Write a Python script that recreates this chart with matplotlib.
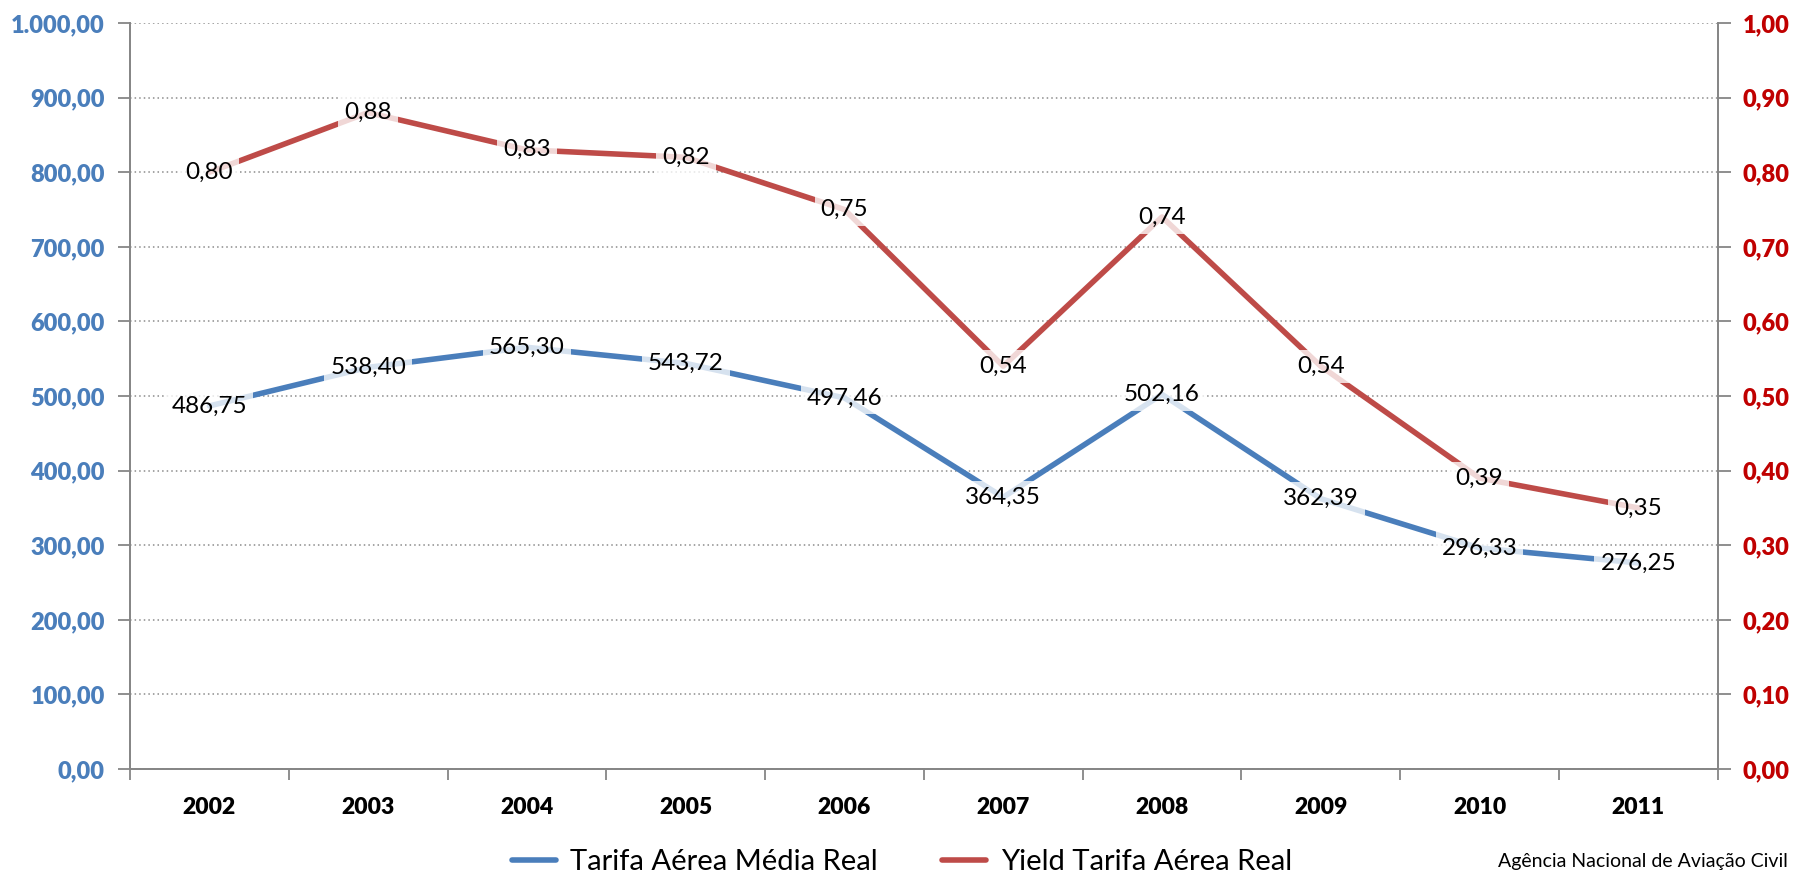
import matplotlib.pyplot as plt

anos = ['2002', '2003', '2004', '2005', '2006', '2007', '2008', '2009', '2010', '2011']
tarifa = [486.75, 538.40, 565.30, 543.72, 497.46, 364.35, 502.16, 362.39, 296.33, 276.25]
yield_ = [0.80, 0.88, 0.83, 0.82, 0.75, 0.54, 0.74, 0.54, 0.39, 0.35]
ticks_esq = [0, 100, 200, 300, 400, 500, 600, 700, 800, 900, 1000]
ticks_dir = [0.0, 0.1, 0.2, 0.3, 0.4, 0.5, 0.6, 0.7, 0.8, 0.9, 1.0]

azul = '#4A7EBB'
vermelho = '#BE4B48'
cinza = '#868686'

plt.rcParams['font.family'] = ['Lato', 'DejaVu Sans']


def br(v, dec=2):
    s = f"{v:,.{dec}f}"
    return s.replace(',', 'X').replace('.', ',').replace('X', '.')


fig = plt.figure(figsize=(17.93, 8.75), dpi=100)
ax = fig.add_axes([0.0725, 0.1211, 0.8855, 0.8526])
ax2 = ax.twinx()

x = list(range(len(anos)))
ax.plot(x, tarifa, color=azul, lw=4, solid_capstyle='round', zorder=3,
        label='Tarifa Aérea Média Real')
ax2.plot(x, yield_, color=vermelho, lw=4, solid_capstyle='round', zorder=3,
         label='Yield Tarifa Aérea Real')

box = dict(boxstyle='square,pad=0.25', fc='white', ec='none', alpha=0.78)
for i, v in enumerate(tarifa):
    ax.text(i, v, br(v), ha='center', va='center', fontsize=17.5, color='black',
            bbox=box, zorder=4)
for i, v in enumerate(yield_):
    ax2.text(i, v, br(v), ha='center', va='center', fontsize=17.5, color='black',
             bbox=box, zorder=4)

ax.set_xlim(-0.5, len(anos) - 0.5)
ax.set_ylim(0, 1000)
ax2.set_ylim(0, 1.0)
ax.set_yticks(ticks_esq)
ax.set_yticklabels([br(v) for v in ticks_esq], fontweight='heavy',
                   fontsize=17, color=azul)
ax2.set_yticks(ticks_dir)
ax2.set_yticklabels([br(v) for v in ticks_dir], fontweight='heavy',
                    fontsize=17, color='#C00000')

ax.grid(axis='y', color='#8c8c8c', linestyle=(0, (1, 2)), lw=1.1)
ax.set_axisbelow(True)

# categorias: ticks nos limites, rotulos no centro
ax.set_xticks([i - 0.5 for i in range(len(anos) + 1)])
ax.set_xticklabels([])
ax.set_xticks(x, minor=True)
ax.set_xticklabels(anos, minor=True, fontsize=16.5, fontweight='heavy')
ax.tick_params(axis='x', which='major', length=8, color=cinza, width=1.3)
ax.tick_params(axis='x', which='minor', length=0, pad=20)

ax.tick_params(axis='y', length=9, color=cinza, width=1.3, pad=9)
ax2.tick_params(axis='y', length=9, color=cinza, width=1.3, pad=9)

for a in (ax, ax2):
    a.spines['top'].set_visible(False)
    for s in ('left', 'right', 'bottom'):
        a.spines[s].set_color(cinza)
        a.spines[s].set_linewidth(1.3)

h1, l1 = ax.get_legend_handles_labels()
h2, l2 = ax2.get_legend_handles_labels()
fig.legend(h1 + h2, l1 + l2, loc='center', bbox_to_anchor=(0.503, 0.015),
           ncol=2, frameon=False, fontsize=21, handlelength=1.5,
           columnspacing=2.2, handletextpad=0.5)

fig.text(0.997, 0.015, 'Agência Nacional de Aviação Civil', ha='right',
         va='center', fontsize=14)

fig.savefig('out.png', dpi=100)
